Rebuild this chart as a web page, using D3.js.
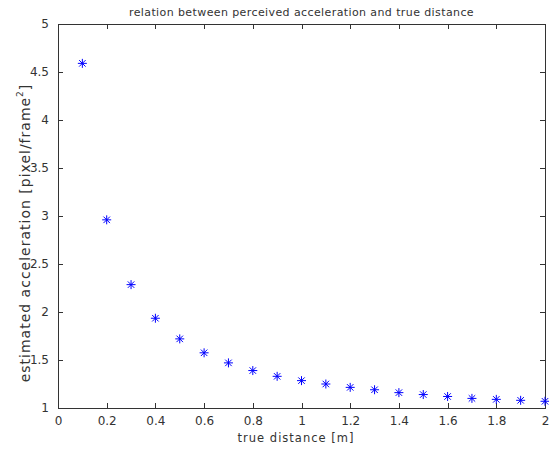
<!DOCTYPE html>
<html><head><meta charset="utf-8">
<script src="https://cdn.jsdelivr.net/npm/d3@7"></script>
<style>body{margin:0;background:#fff;} text{font-family:"DejaVu Sans",sans-serif;}</style>
</head><body>
<svg id="c" width="549" height="450"></svg>
<script>
const distances = [0.1,0.2,0.3,0.4,0.5,0.6,0.7,0.8,0.9,1.0,1.1,1.2,1.3,1.4,1.5,1.6,1.7,1.8,1.9,2.0];
const accelerations = [4.59,2.96,2.285,1.935,1.72,1.575,1.47,1.39,1.33,1.285,1.25,1.215,1.19,1.16,1.14,1.12,1.10,1.09,1.08,1.07];
const xTicks = [0,0.2,0.4,0.6,0.8,1,1.2,1.4,1.6,1.8,2];
const yTicks = [1,1.5,2,2.5,3,3.5,4,4.5,5];
const titleText = "relation between perceived acceleration and true distance";
const xLabel = "true distance [m]";

const svg = d3.select("#c");
const L=58, R=545, T=24, B=408;
const x = d3.scaleLinear().domain([0,2]).range([L,R]);
const y = d3.scaleLinear().domain([1,5]).range([B,T]);
const tickLen = 5;
const axisCol = "#333";
const textCol = "#333";
const ff = "DejaVu Sans, sans-serif";

svg.append("rect").attr("x",L).attr("y",T).attr("width",R-L).attr("height",B-T)
  .attr("fill","none").attr("stroke",axisCol).attr("stroke-width",1).attr("shape-rendering","crispEdges");

const fmt = d => String(d);
const gb = svg.append("g").attr("transform",`translate(0,${B})`)
  .call(d3.axisBottom(x).tickValues(xTicks).tickSizeInner(-tickLen).tickSizeOuter(0).tickPadding(8).tickFormat(fmt));
const gt = svg.append("g").attr("transform",`translate(0,${T})`)
  .call(d3.axisTop(x).tickValues(xTicks).tickSizeInner(-tickLen).tickSizeOuter(0).tickFormat(""));
const gl = svg.append("g").attr("transform",`translate(${L},0)`)
  .call(d3.axisLeft(y).tickValues(yTicks).tickSizeInner(-tickLen).tickSizeOuter(0).tickPadding(9).tickFormat(fmt));
const gr = svg.append("g").attr("transform",`translate(${R},0)`)
  .call(d3.axisRight(y).tickValues(yTicks).tickSizeInner(-tickLen).tickSizeOuter(0).tickFormat(""));
[gb,gt,gl,gr].forEach(g=>{
  g.select(".domain").remove();
  g.selectAll("line").attr("stroke",axisCol).attr("shape-rendering","crispEdges");
  g.selectAll("text").attr("fill",textCol).attr("font-size",12).attr("font-family",ff);
});

const s = 4.5;
const mk = svg.append("g").attr("stroke","#0000ff").attr("stroke-width",1).attr("fill","none");
distances.forEach((d,i)=>{
  const cx = x(d), cy = y(accelerations[i]);
  const gm = mk.append("g").attr("transform",`translate(${cx},${cy})`);
  gm.append("line").attr("x1",-s).attr("x2",s).attr("y1",0).attr("y2",0);
  gm.append("line").attr("x1",0).attr("x2",0).attr("y1",-s).attr("y2",s);
  const d2 = s*0.72;
  gm.append("line").attr("x1",-d2).attr("x2",d2).attr("y1",-d2).attr("y2",d2);
  gm.append("line").attr("x1",-d2).attr("x2",d2).attr("y1",d2).attr("y2",-d2);
});

svg.append("text").attr("x",(L+R)/2).attr("y",16).attr("text-anchor","middle")
  .attr("font-size",11).attr("letter-spacing",0.4).attr("fill",textCol).text(titleText);
svg.append("text").attr("x",296).attr("y",442).attr("text-anchor","middle")
  .attr("font-size",11.5).attr("letter-spacing",1).attr("fill",textCol).text(xLabel);
const yl = svg.append("text").attr("transform",`translate(30,233) rotate(-90)`)
  .attr("text-anchor","middle").attr("font-size",14).attr("letter-spacing",1).attr("fill",textCol);
yl.append("tspan").text("estimated acceleration [pixel/frame");
yl.append("tspan").attr("dy",-7).attr("font-size",9).text("2");
yl.append("tspan").attr("dy",7).text("]");
</script>
</body></html>
